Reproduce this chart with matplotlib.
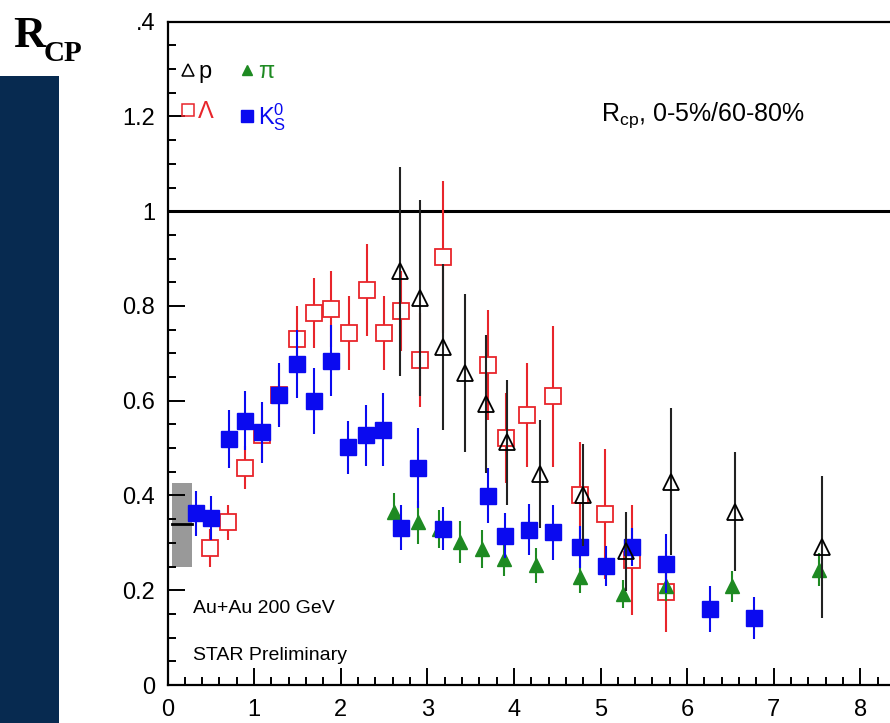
import numpy as np
import matplotlib.pyplot as plt
from matplotlib.lines import Line2D
from matplotlib.patches import Rectangle
from matplotlib.ticker import MultipleLocator, FixedLocator

plt.rcParams['font.family'] = ['Liberation Sans', 'DejaVu Sans']
plt.rcParams['mathtext.fontset'] = 'custom'
plt.rcParams['mathtext.rm'] = 'Liberation Sans'
plt.rcParams['mathtext.it'] = 'Liberation Sans:italic'

# ---- data (pT in GeV/c) ----
k0s_x = [0.33, 0.50, 0.71, 0.90, 1.09, 1.29, 1.49, 1.69, 1.89, 2.09, 2.29, 2.49, 2.70,
         2.89, 3.18, 3.70, 3.90, 4.17, 4.45, 4.76, 5.06, 5.36, 5.76, 6.27, 6.77]
k0s_y = [0.362, 0.352, 0.519, 0.558, 0.533, 0.612, 0.678, 0.600, 0.684, 0.502, 0.527, 0.539, 0.332,
         0.458, 0.330, 0.399, 0.315, 0.328, 0.322, 0.291, 0.251, 0.292, 0.256, 0.160, 0.142]
k0s_err = [0.048, 0.046, 0.062, 0.063, 0.064, 0.068, 0.072, 0.070, 0.075, 0.056, 0.065, 0.077, 0.047,
           0.085, 0.045, 0.058, 0.048, 0.053, 0.058, 0.045, 0.042, 0.040, 0.062, 0.048, 0.044]

pion_x = [2.62, 2.89, 3.13, 3.38, 3.63, 3.88, 4.26, 4.76, 5.26, 5.76, 6.52, 7.52]
pion_y = [0.366, 0.343, 0.330, 0.302, 0.288, 0.265, 0.253, 0.229, 0.192, 0.208, 0.208, 0.243]
pion_err = [0.040, 0.045, 0.040, 0.045, 0.040, 0.035, 0.037, 0.035, 0.030, 0.030, 0.033, 0.035]

lam_x = [0.485, 0.70, 0.89, 1.09, 1.29, 1.495, 1.69, 1.89, 2.10, 2.30, 2.50,
         2.70, 2.91, 3.18, 3.70, 3.91, 4.15, 4.45, 4.76, 5.05, 5.36, 5.76]
lam_y = [0.289, 0.343, 0.459, 0.528, 0.612, 0.730, 0.785, 0.793, 0.743, 0.834, 0.743,
         0.789, 0.686, 0.903, 0.676, 0.521, 0.570, 0.609, 0.401, 0.361, 0.264, 0.197]
lam_err = [0.040, 0.037, 0.045, 0.053, 0.063, 0.070, 0.074, 0.080, 0.079, 0.097, 0.078,
           0.085, 0.100, 0.160, 0.116, 0.095, 0.110, 0.148, 0.111, 0.137, 0.116, 0.085]

p_x = [2.68, 2.92, 3.18, 3.43, 3.68, 3.92, 4.30, 4.80, 5.30, 5.81, 6.55, 7.56]
p_y = [0.873, 0.817, 0.714, 0.658, 0.593, 0.512, 0.445, 0.401, 0.282, 0.429, 0.366, 0.292]
p_err = [0.220, 0.207, 0.175, 0.167, 0.145, 0.132, 0.114, 0.107, 0.083, 0.155, 0.125, 0.150]

# normalisation uncertainty band (Ncoll)
syst_x = [0.05, 0.28]
syst_lo, syst_hi, syst_mid = 0.25, 0.427, 0.34

ytick_vals = [0, 0.2, 0.4, 0.6, 0.8, 1.0, 1.2, 1.4]
ytick_labels = ['0', '0.2', '0.4', '0.6', '0.8', '1', '1.2', '.4']
xtick_vals = [0, 1, 2, 3, 4, 5, 6, 7, 8]

red = '#e8252b'
green = '#1e8a22'
blue = '#0a0af0'

W, H = 890, 723
fig = plt.figure(figsize=(W / 100, H / 100), dpi=100)
fig.patch.set_facecolor('white')

# navy side panel of the slide
fig.add_artist(Rectangle((0, 0), 59 / W, (H - 76) / H, transform=fig.transFigure,
                         facecolor='#072a50', edgecolor='none', zorder=0))
fig.text(13 / W, 1 - 47 / H, 'R', family='Liberation Serif', fontweight='bold',
         fontsize=32, va='baseline', ha='left')
fig.text(44 / W, 1 - 61 / H, 'CP', family='Liberation Serif', fontweight='bold',
         fontsize=21, va='baseline', ha='left')

ax_l, ax_r = 167.5, 890
ax_b, ax_t = 685, 21.7
ax = fig.add_axes([ax_l / W, 1 - ax_b / H, (ax_r - ax_l) / W, (ax_b - ax_t) / H])
ax.set_xlim(0, (ax_r - ax_l) / 86.6)
ax.set_ylim(0, 1.4)

ax.add_patch(Rectangle((syst_x[0], syst_lo), syst_x[1] - syst_x[0], syst_hi - syst_lo,
                       facecolor='#999999', edgecolor='none', zorder=1))
ax.plot(syst_x, [syst_mid, syst_mid], color='black', lw=2, zorder=2)
ax.axhline(1.0, color='black', lw=2.2, zorder=2)

ax.errorbar(lam_x, lam_y, yerr=lam_err, fmt='s', ms=12, mfc='white', mec=red, mew=1.3,
            ecolor=red, elinewidth=1.5, capsize=0, zorder=3)
ax.errorbar(pion_x, pion_y, yerr=pion_err, fmt='^', ms=10, mfc=green, mec=green,
            ecolor=green, elinewidth=1.5, capsize=0, zorder=4)
ax.errorbar(k0s_x, k0s_y, yerr=k0s_err, fmt='s', ms=11.5, mfc=blue, mec=blue,
            ecolor=blue, elinewidth=1.5, capsize=0, zorder=5)
ax.errorbar(p_x, p_y, yerr=p_err, fmt='^', ms=12, mfc='none', mec='black', mew=1.3,
            ecolor='#222222', elinewidth=1.5, capsize=0, zorder=6)

# axes styling (ROOT-like: inward ticks, no right spine visible)
for s in ['left', 'bottom', 'top']:
    ax.spines[s].set_linewidth(1.6)
ax.spines['right'].set_visible(False)
ax.yaxis.set_major_locator(FixedLocator(ytick_vals))
ax.set_yticklabels(ytick_labels)
ax.yaxis.set_minor_locator(MultipleLocator(0.05))
ax.xaxis.set_major_locator(FixedLocator(xtick_vals))
ax.set_xticklabels([str(v) for v in xtick_vals])
ax.xaxis.set_minor_locator(MultipleLocator(0.2))
ax.tick_params(which='both', direction='in', top=False, right=False, width=1.4,
               labelsize=17, colors='black')
ax.tick_params(which='major', length=12)
ax.tick_params(which='minor', length=6)
ax.tick_params(axis='y', which='major', pad=9)
ax.tick_params(axis='x', which='major', pad=10)

ax.text(0.29, 0.152, 'Au+Au 200 GeV', fontsize=14, va='baseline', ha='left')
ax.text(0.29, 0.053, 'STAR Preliminary', fontsize=14, va='baseline', ha='left')
ax.text(5.01, 1.19, r'$\mathrm{R}_{\mathrm{cp}}$, 0-5%/60-80%', fontsize=18,
        va='baseline', ha='left')

handles = [
    Line2D([], [], ls='none', marker='^', ms=9, mfc='none', mec='black', mew=1.1),
    Line2D([], [], ls='none', marker='s', ms=8.5, mfc='none', mec=red, mew=1.1),
    Line2D([], [], ls='none', marker='^', ms=7.5, mfc=green, mec=green),
    Line2D([], [], ls='none', marker='s', ms=8.5, mfc=blue, mec=blue),
]
labels = ['p', 'Λ', 'π', r'$\mathrm{K}^{0}_{\mathrm{S}}$']
ax.legend(handles, labels, ncol=2, loc='upper left', bbox_to_anchor=(0.018, 0.94),
          frameon=False, fontsize=17, handlelength=0.6, handletextpad=0.15,
          columnspacing=1.1, labelspacing=0.75, borderpad=0, borderaxespad=0,
          labelcolor=['black', red, green, blue])

fig.savefig('out.png', dpi=100)
